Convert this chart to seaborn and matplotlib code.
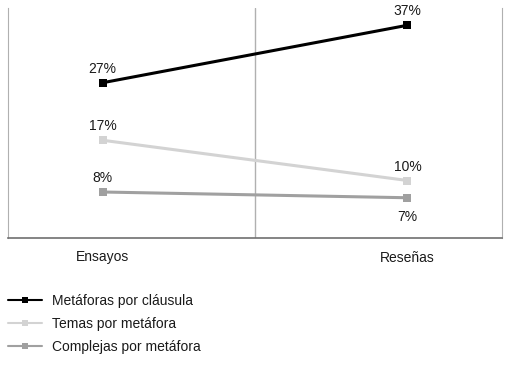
import pandas as pd
import matplotlib.pyplot as plt
import seaborn as sns

# Datos
categorias = ["Ensayos", "Reseñas"]
metaforas_clausula = [27, 37]
temas_metafora = [17, 10]
complejas_metafora = [8, 7]
series = ["Metáforas por cláusula", "Temas por metáfora", "Complejas por metáfora"]
colores = ["#000000", "#d3d3d3", "#a0a0a0"]

df = pd.DataFrame({
    "categoria": categorias * 3,
    "x": [0, 1] * 3,
    "valor": metaforas_clausula + temas_metafora + complejas_metafora,
    "serie": [series[0]] * 2 + [series[1]] * 2 + [series[2]] * 2,
})

sns.set_style("white")
plt.rcParams['font.family'] = ['Liberation Sans Narrow', 'Liberation Sans', 'DejaVu Sans']
plt.rcParams['text.color'] = "#1a1a1a"
plt.rcParams['xtick.color'] = "#1a1a1a"

fig = plt.figure(figsize=(5.14, 3.67), dpi=100)
ax = fig.add_axes([8 / 514, 1 - 238 / 367, 494 / 514, 230 / 367])

sns.lineplot(data=df, x="x", y="valor", hue="serie", hue_order=series,
             palette=colores, marker="s", markersize=6, markeredgewidth=0,
             linewidth=2.2, ax=ax, legend=False)

ax.set_xlim(-0.31, 1.31)
ax.set_ylim(0, 40)
ax.set_xticks([0, 1])
ax.set_xticklabels(categorias, fontsize=10)
ax.tick_params(axis="x", length=0, pad=9)
ax.set_yticks([])
ax.set_xlabel("")
ax.set_ylabel("")

ax.spines["top"].set_visible(False)
ax.spines["left"].set_color("#b0b0b0")
ax.spines["right"].set_color("#b0b0b0")
ax.spines["bottom"].set_color("#707070")
ax.spines["bottom"].set_linewidth(1.2)
ax.axvline(0.5, color="#b0b0b0", linewidth=1, zorder=0)

# Etiquetas de datos
for vals, debajo in [(metaforas_clausula, [False, False]),
                     (temas_metafora, [False, False]),
                     (complejas_metafora, [False, True])]:
    for i, v in enumerate(vals):
        if debajo[i]:
            ax.annotate(f"{v}%", (i, v), xytext=(0, -9), textcoords="offset points",
                        ha="center", va="top", fontsize=10)
        else:
            ax.annotate(f"{v}%", (i, v), xytext=(0, 5), textcoords="offset points",
                        ha="center", va="bottom", fontsize=10)

# Leyenda
handles = [plt.Line2D([], [], color=c, marker="s", markersize=5, markeredgewidth=0,
                      linewidth=1.5) for c in colores]
fig.legend(handles, series, loc="upper left", bbox_to_anchor=(8 / 514, 0.199),
           frameon=False, fontsize=10, handlelength=2.45, handletextpad=0.7,
           labelspacing=0.65, borderaxespad=0, borderpad=0)

fig.savefig("out.png", dpi=100)
